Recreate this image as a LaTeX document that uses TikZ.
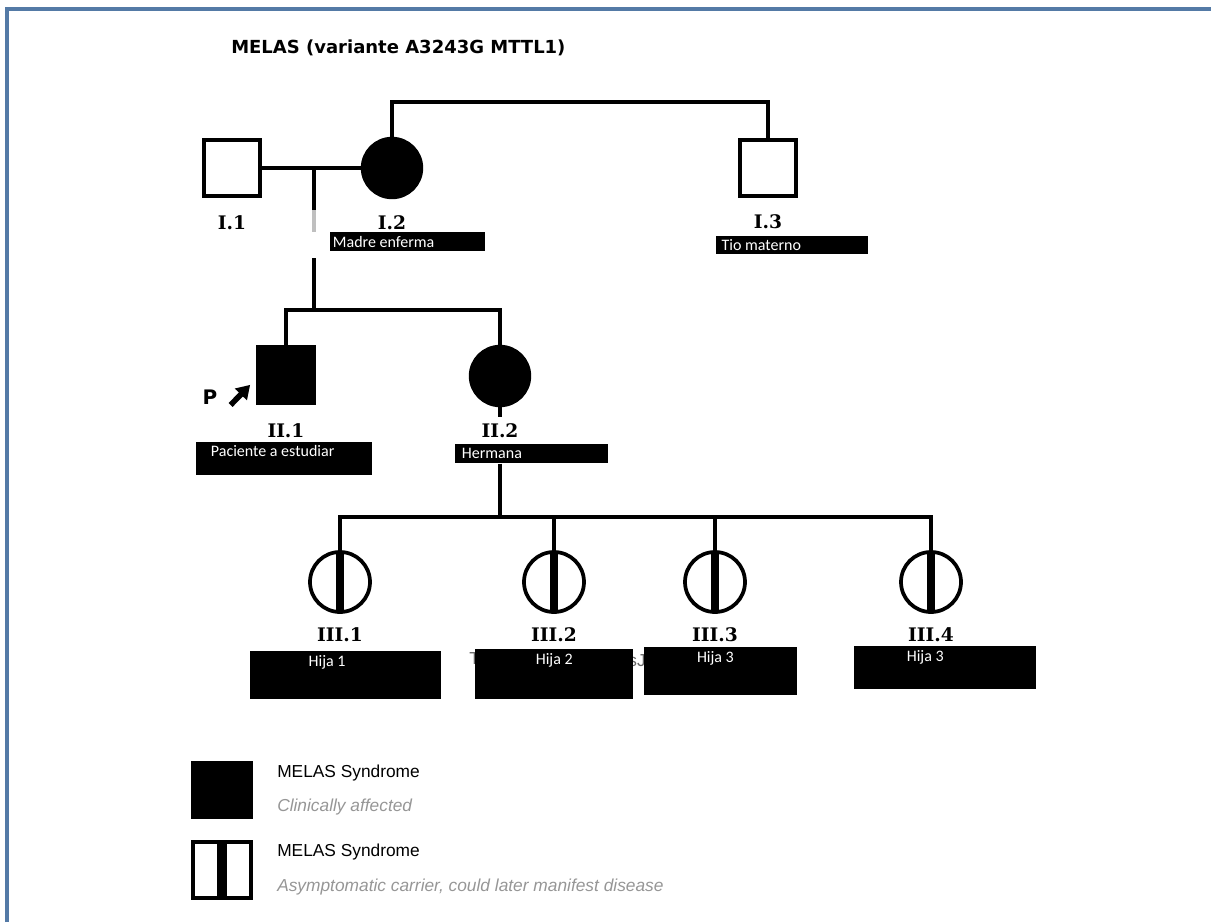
\documentclass[tikz,border=0pt]{standalone}
\usepackage{fontspec}
\setmainfont{DejaVu Sans}
\newfontfamily\genfont{DejaVu Serif}
\newfontfamily\tagfont{Carlito}
\newfontfamily\legfont{Liberation Sans}
\usetikzlibrary{arrows.meta}
\definecolor{framecol}{RGB}{84,122,166}
\definecolor{leggray}{RGB}{150,150,150}
\tikzset{
  male/.style={draw, line width=2.8pt, minimum size=42pt, inner sep=0pt},
  female/.style={circle, draw, line width=2.8pt, minimum size=44pt, inner sep=0pt},
  affected/.style={fill=black},
  carrier/.style={female, minimum size=45pt, fill=white,
    path picture={\fill[black] ([xshift=-3.2pt]path picture bounding box.north) rectangle ([xshift=3.2pt]path picture bounding box.south);}},
  gen/.style={font=\genfont\bfseries\fontsize{14pt}{16pt}\selectfont, inner sep=0pt},
  tagbox/.style={fill=black, inner sep=0pt, anchor=north west},
  tagtext/.style={text=white, font=\tagfont\fontsize{12pt}{14pt}\selectfont, inner sep=0pt},
  legtext/.style={font=\legfont\fontsize{13pt}{15pt}\selectfont, anchor=west, inner sep=0pt},
  legnote/.style={legtext, text=leggray, font=\legfont\itshape\fontsize{13pt}{15pt}\selectfont},
  link/.style={line width=2.8pt},
}

\begin{document}
\begin{tikzpicture}[x=0.75pt, y=-0.75pt]
  \useasboundingbox (0,0) rectangle (1211,922);
  \draw [framecol, line width=2.4pt] (7,922) -- (7,9) -- (1211,9);

  \node [font=\bfseries\fontsize{13.5pt}{16pt}\selectfont, anchor=base west, inner sep=0pt] (title) at (231,53) {MELAS (variante A3243G MTTL1)};

  % generation I
  \node [male] (i1) at (232,168) {};
  \node [female, affected] (i2) at (392,168) {};
  \node [male] (i3) at (768,168) {};
  \node [gen] (l11) at (232,223) {I.1};
  \node [gen] (l12) at (392,223) {I.2};
  \node [gen] (l13) at (768,222) {I.3};
  \node [tagbox, minimum width=116pt, minimum height=14.25pt,
    label={[tagtext, anchor=west, xshift=2pt]west:Madre enferma}] (t12) at (330,232) {};
  \node [tagbox, minimum width=114pt, minimum height=13.5pt,
    label={[tagtext, anchor=west, xshift=4pt]west:Tio materno}] (t13) at (716,236) {};

  \coordinate (top1) at (0,102);
  \coordinate (sib2) at (0,310);
  \coordinate (sib3) at (0,517);
  \coordinate (mar) at (314,168);
  \coordinate (desc) at (314,258);

  \draw [link] (i1) -- (i2);
  \draw [link] (i2.north) -- (i2.north |- top1) -| (i3.north);
  \draw [link] (mar) -- ++(0,42);
  \draw [link, black!25] ([yshift=-31.5pt]mar) -- ++(0,22);

  % generation II
  \node [male, affected] (ii1) at (286,375) {};
  \node [female, affected] (ii2) at (500,376) {};
  \node [font=\bfseries\fontsize{15pt}{17pt}\selectfont, inner sep=0pt] (p) at (210,397) {P};
  \node [gen] (l21) at (286,431) {II.1};
  \node [gen] (l22) at (500,431) {II.2};
  \node [tagbox, minimum width=132pt, minimum height=24.75pt,
    label={[tagtext, anchor=north west, xshift=11pt, yshift=-2pt]north west:Paciente a estudiar}] (t21) at (196,442) {};
  \node [tagbox, minimum width=114.75pt, minimum height=14.25pt,
    label={[tagtext, anchor=west, xshift=5pt]west:Hermana}] (t22) at (455,444) {};

  \draw [link] (desc) -- (desc |- sib2);
  \draw [link] (ii1.north) |- (ii2.north |- sib2) -- (ii2.north);
  \draw [-{Triangle[length=10pt,width=12pt]}, line width=4.2pt] ([shift={(13,8)}]p.east) -- ([shift={(-6,-20)}]ii1.south west);
  \draw [link] (ii2.south) -- ++(0,10);
  \draw [link] (ii2 |- t22.south) -- (ii2 |- sib3);

  % generation III
  \node [carrier] (iii1) at (340,582) {};
  \node [carrier] (iii2) at (554,582) {};
  \node [carrier] (iii3) at (715,582) {};
  \node [carrier] (iii4) at (931,582) {};
  \draw [link] (iii1.north) |- (iii4.north |- sib3) -- (iii4.north);
  \foreach \k in {2,3} \draw [link] (iii\k.north |- sib3) -- (iii\k.north);
  \node [gen] (l31) at (340,635) {III.1};
  \node [gen] (l32) at (554,635) {III.2};
  \node [gen] (l33) at (715,635) {III.3};
  \node [gen] (l34) at (931,635) {III.4};

  \node [legtext, text=black!60] (frag1) at (469,659) {T};
  \node [legtext, text=black!60, anchor=east] (frag2) at (646,661) {sJ};
  \node [tagbox, minimum width=143.25pt, minimum height=36pt,
    label={[tagtext, anchor=north, xshift=-14pt, yshift=-3pt]north:Hija 1}] (t31) at (250,651) {};
  \node [tagbox, minimum width=118.5pt, minimum height=37.5pt,
    label={[tagtext, anchor=north, yshift=-3pt]north:Hija 2}] (t32) at (475,649) {};
  \node [tagbox, minimum width=114.75pt, minimum height=36pt,
    label={[tagtext, anchor=north, xshift=-4pt, yshift=-3pt]north:Hija 3}] (t33) at (644,647) {};
  \node [tagbox, minimum width=136.5pt, minimum height=32.25pt,
    label={[tagtext, anchor=north, xshift=-15pt, yshift=-3pt]north:Hija 3}] (t34) at (854,646) {};

  % legend
  \node [male, affected, minimum width=43.5pt, minimum height=41pt] (keyaff) at (222,790) {};
  \node [male, line width=3pt, minimum width=43.5pt, minimum height=42pt,
    path picture={\fill[black] ([xshift=-3.75pt]path picture bounding box.north) rectangle ([xshift=3.75pt]path picture bounding box.south);}] (keycar) at (222,870) {};
  \node [legtext] (k1) at (277,773) {MELAS Syndrome};
  \node [legnote] (k2) at (277,807) {Clinically affected};
  \node [legtext] (k3) at (277,852) {MELAS Syndrome};
  \node [legnote] (k4) at (277,887) {Asymptomatic carrier, could later manifest disease};
\end{tikzpicture}
\end{document}
